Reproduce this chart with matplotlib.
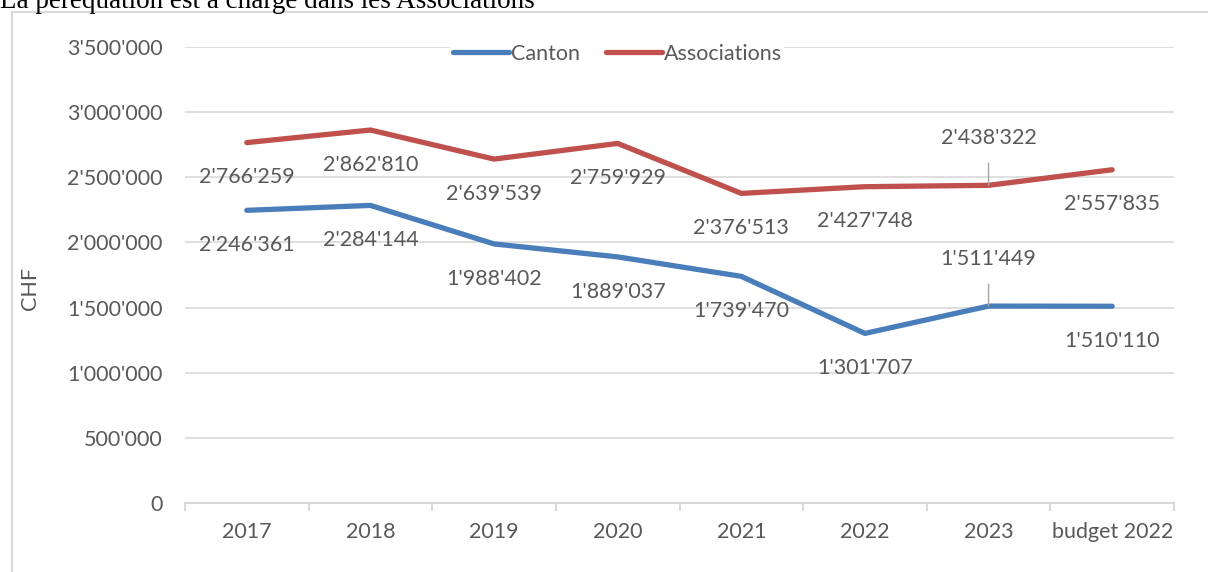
import matplotlib
matplotlib.use("Agg")
import matplotlib.pyplot as plt
from matplotlib.patches import Rectangle

categories = ["2017", "2018", "2019", "2020", "2021", "2022", "2023", "budget 2022"]
canton = [2246361, 2284144, 1988402, 1889037, 1739470, 1301707, 1511449, 1510110]
associations = [2766259, 2862810, 2639539, 2759929, 2376513, 2427748, 2438322, 2557835]
yticks = [0, 500000, 1000000, 1500000, 2000000, 2500000, 3000000, 3500000]
title = "La péréquation est à charge dans les Associations"

BLUE = "#4A7EBB"
RED = "#C0504D"
GRAY = "#595959"
GRID = "#D9D9D9"
FONT = ["Lato", "DejaVu Sans"]
FS = 15.5

def fmt(v):
    return f"{v:,}".replace(",", "'")

W, H = 1208, 572
fig = plt.figure(figsize=(W / 100, H / 100), dpi=100)
fig.patch.set_facecolor("white")

# outer frame
fig.add_artist(Rectangle((12 / W, -0.05), 1.2, 1 - 12 / H + 0.05, transform=fig.transFigure,
                         fill=False, edgecolor=GRID, linewidth=1.5))
fig.text(0, 1 - 8 / H, title, family="Liberation Serif", fontsize=19.5, color="black",
         ha="left", va="baseline")

ax = fig.add_axes([185 / W, 1 - 503 / H, (1174 - 185) / W, (503 - 47) / H])
x = list(range(len(categories)))
l1, = ax.plot(x, canton, color=BLUE, lw=3.8, solid_capstyle="round", label="Canton", zorder=3)
l2, = ax.plot(x, associations, color=RED, lw=3.8, solid_capstyle="round", label="Associations", zorder=3)

ax.set_xlim(-0.5, len(categories) - 0.5)
ax.set_ylim(0, 3500000)
ax.set_yticks(yticks)
ax.set_yticklabels([fmt(v) for v in yticks], family=FONT, fontsize=FS, color=GRAY)
ax.set_xticks(x)
ax.set_xticklabels(categories, family=FONT, fontsize=FS, color=GRAY)
ax.set_xticks([i - 0.5 for i in range(len(categories) + 1)], minor=True)
ax.tick_params(axis="x", which="major", length=0, pad=14)
ax.tick_params(axis="x", which="minor", length=6, color=GRID, width=1.5, direction="out")
ax.tick_params(axis="y", length=0, pad=16)
ax.grid(axis="y", color=GRID, lw=1.2)
ax.set_axisbelow(True)
for s in ["left", "right", "top"]:
    ax.spines[s].set_visible(False)
ax.spines["bottom"].set_color(GRID)
ax.spines["bottom"].set_linewidth(1.5)

ax.set_ylabel("CHF", family=FONT, fontsize=FS, color=GRAY)
ax.yaxis.set_label_coords((40 - 185) / (1174 - 185), 0.47)

# data labels
def label(series, i, above=False):
    v = series[i]
    if above:
        ax.annotate(fmt(v), (i, v), xytext=(0, 34), textcoords="offset points",
                    ha="center", va="center", family=FONT, fontsize=FS, color=GRAY,
                    arrowprops=dict(arrowstyle="-", color="#A6A6A6", lw=1, shrinkA=9, shrinkB=0))
    else:
        ax.annotate(fmt(v), (i, v), xytext=(0, -25), textcoords="offset points",
                    ha="center", va="center", family=FONT, fontsize=FS, color=GRAY)

for i in range(len(categories)):
    label(associations, i, above=(i == 6))
    label(canton, i, above=(i == 6))

leg = ax.legend(handles=[l1, l2], loc="upper center", bbox_to_anchor=(0.437, 1.035), ncol=2,
                frameon=True, fancybox=False, edgecolor="none", framealpha=1,
                prop={"family": FONT, "size": FS}, handlelength=2.6, handletextpad=0.1,
                columnspacing=1.2, borderpad=0.1)
for t in leg.get_texts():
    t.set_color(GRAY)

fig.savefig("out.png", dpi=100)
